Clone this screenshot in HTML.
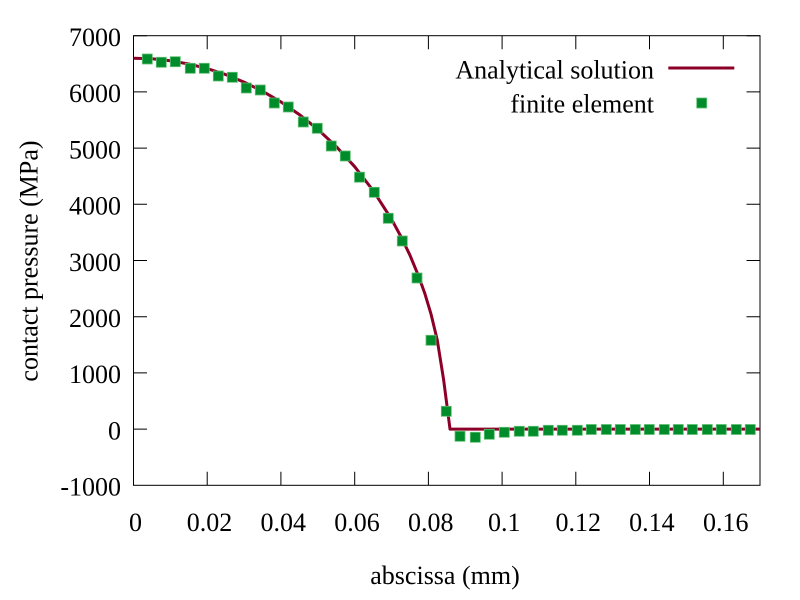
<!DOCTYPE html>
<html>
<head>
<meta charset="utf-8">
<style>
  html, body { margin: 0; padding: 0; background: #ffffff; }
  svg { display: block; }
  text { font-family: "Liberation Serif", "Times New Roman", serif; font-size: 26px; fill: #000; }
</style>
</head>
<body>
<svg width="800" height="600" viewBox="0 0 800 600" xmlns="http://www.w3.org/2000/svg">
  <rect x="0" y="0" width="800" height="600" fill="#ffffff"/>
  <g stroke="#000" stroke-width="1" fill="none">
    <path d="M133.5,35.7h13.5 M760,35.7h-13.5 M133.5,91.9h13.5 M760,91.9h-13.5 M133.5,148.1h13.5 M760,148.1h-13.5 M133.5,204.3h13.5 M760,204.3h-13.5 M133.5,260.5h13.5 M760,260.5h-13.5 M133.5,316.7h13.5 M760,316.7h-13.5 M133.5,372.9h13.5 M760,372.9h-13.5 M133.5,429.1h13.5 M760,429.1h-13.5"/>
    <path d="M207.2,485.3v-13.5 M207.2,35.7v13.5 M280.9,485.3v-13.5 M280.9,35.7v13.5 M354.7,485.3v-13.5 M354.7,35.7v13.5 M428.4,485.3v-13.5 M428.4,35.7v13.5 M502.1,485.3v-13.5 M502.1,35.7v13.5 M575.8,485.3v-13.5 M575.8,35.7v13.5 M649.5,485.3v-13.5 M649.5,35.7v13.5 M723.3,485.3v-13.5 M723.3,35.7v13.5"/>
    <rect x="133.5" y="35.7" width="626.5" height="449.6"/>
  </g>
  <g text-anchor="end">
    <text x="121" y="46">7000</text>
    <text x="121" y="102.2">6000</text>
    <text x="121" y="158.4">5000</text>
    <text x="121" y="214.6">4000</text>
    <text x="121" y="270.8">3000</text>
    <text x="121" y="327">2000</text>
    <text x="121" y="383.2">1000</text>
    <text x="121" y="439.4">0</text>
    <text x="121" y="495.6">-1000</text>
  </g>
  <g text-anchor="middle">
    <text x="135.5" y="531">0</text>
    <text x="209.5" y="531">0.02</text>
    <text x="283.2" y="531">0.04</text>
    <text x="357" y="531">0.06</text>
    <text x="430.7" y="531">0.08</text>
    <text x="504.2" y="531">0.1</text>
    <text x="578.2" y="531">0.12</text>
    <text x="651.9" y="531">0.14</text>
    <text x="725.7" y="531">0.16</text>
  </g>
  <text x="445" y="584" text-anchor="middle">abscissa (mm)</text>
  <text x="0" y="0" text-anchor="middle" transform="translate(37.5,261) rotate(-90)">contact pressure (MPa)</text>
  <polyline fill="none" stroke="#8c0028" stroke-width="3" stroke-linejoin="round" points="133.5,58.2 151.9,58.8 170.4,60.8 188.8,64.0 207.2,68.6 225.7,74.6 244.1,82.1 262.5,91.2 280.9,101.9 299.4,114.6 317.8,129.3 336.2,146.5 354.7,166.7 373.1,190.5 391.5,219.2 400.7,236.1 410.0,255.3 418.3,275.4 424.7,293.1 431.0,314.0 437.3,340.2 443.6,379.6 450.0,429.1 760,429.1"/>
  <g fill="#008c2a" stroke="#5fbf72" stroke-width="0.8">
    <rect x="142.3" y="54" width="10" height="10"/>
    <rect x="156.3" y="57.3" width="10" height="10"/>
    <rect x="170.3" y="56.7" width="10" height="10"/>
    <rect x="185.3" y="63.3" width="10" height="10"/>
    <rect x="199.3" y="63.3" width="10" height="10"/>
    <rect x="213.3" y="71" width="10" height="10"/>
    <rect x="227.3" y="72.3" width="10" height="10"/>
    <rect x="241.3" y="83" width="10" height="10"/>
    <rect x="255.3" y="85" width="10" height="10"/>
    <rect x="269.3" y="98" width="10" height="10"/>
    <rect x="283.3" y="102" width="10" height="10"/>
    <rect x="298.3" y="117" width="10" height="10"/>
    <rect x="312.3" y="123.3" width="10" height="10"/>
    <rect x="326.3" y="141" width="10" height="10"/>
    <rect x="340.3" y="151" width="10" height="10"/>
    <rect x="354.5" y="172.2" width="10" height="10"/>
    <rect x="369.3" y="187.3" width="10" height="10"/>
    <rect x="383.3" y="213.3" width="10" height="10"/>
    <rect x="397.3" y="236" width="10" height="10"/>
    <rect x="412" y="273" width="10" height="10"/>
    <rect x="426" y="335.3" width="10" height="10"/>
    <rect x="441.3" y="406.3" width="10" height="10"/>
    <rect x="455" y="431.3" width="10" height="10"/>
    <rect x="470.3" y="432.3" width="10" height="10"/>
    <rect x="484.3" y="429.3" width="10" height="10"/>
    <rect x="499.3" y="427.3" width="10" height="10"/>
    <rect x="514.3" y="426.3" width="10" height="10"/>
    <rect x="528.3" y="426.3" width="10" height="10"/>
    <rect x="543.3" y="425.3" width="10" height="10"/>
    <rect x="557.3" y="425.3" width="10" height="10"/>
    <rect x="572.3" y="425.3" width="10" height="10"/>
    <rect x="586.3" y="424.5" width="10" height="10"/>
    <rect x="601.3" y="424.5" width="10" height="10"/>
    <rect x="615.3" y="424.5" width="10" height="10"/>
    <rect x="630.3" y="424.5" width="10" height="10"/>
    <rect x="644.3" y="424.5" width="10" height="10"/>
    <rect x="659.3" y="424.5" width="10" height="10"/>
    <rect x="673.3" y="424.5" width="10" height="10"/>
    <rect x="687.3" y="424.5" width="10" height="10"/>
    <rect x="702.3" y="424.5" width="10" height="10"/>
    <rect x="716.3" y="424.5" width="10" height="10"/>
    <rect x="731.3" y="424.5" width="10" height="10"/>
    <rect x="745.3" y="424.5" width="10" height="10"/>
  </g>
  <text x="654" y="78.3" text-anchor="end">Analytical solution</text>
  <line x1="668.3" y1="68" x2="734.3" y2="68" stroke="#8c0028" stroke-width="3"/>
  <text x="654" y="112.7" text-anchor="end">finite element</text>
  <rect x="696.7" y="98" width="10" height="10" fill="#008c2a" stroke="#5fbf72" stroke-width="0.8"/>
</svg>
</body>
</html>
